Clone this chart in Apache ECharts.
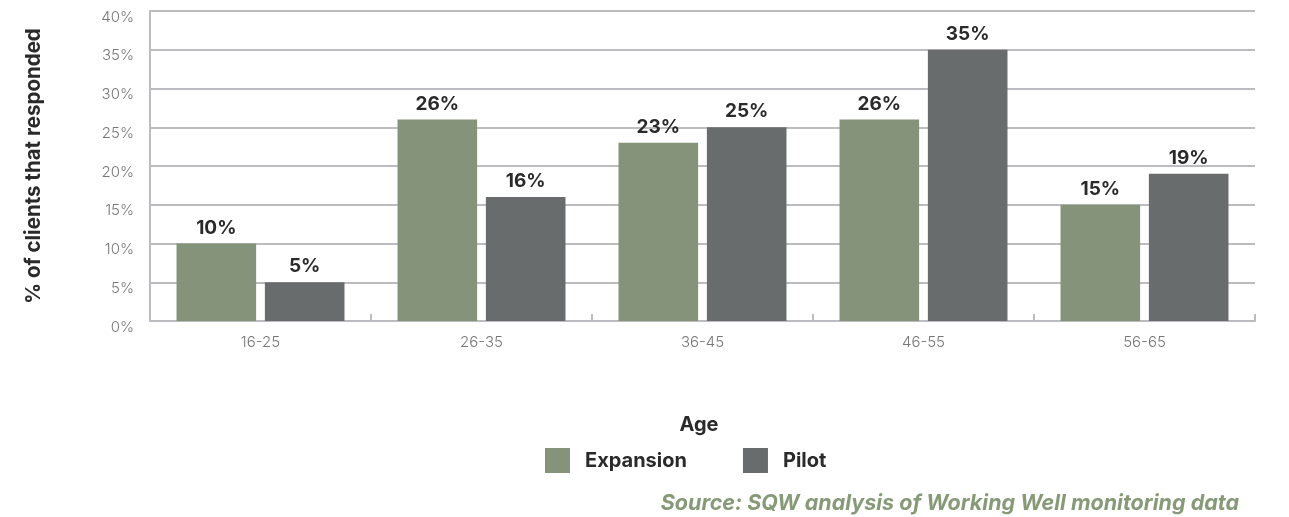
<!DOCTYPE html>
<html>
<head>
<meta charset="utf-8">
<script src="https://cdn.jsdelivr.net/npm/echarts@6/dist/echarts.min.js"></script>
<style>
  html, body { margin: 0; padding: 0; background: #ffffff; }
  #chart { width: 1289px; height: 517px; }
</style>
</head>
<body>
<div id="chart"></div>
<script>
// age groups on the x axis
const ageGroups = ['16-25', '26-35', '36-45', '46-55', '56-65']
// % of clients that responded
const expansion = [10, 26, 23, 26, 15]
const pilot = [5, 16, 25, 35, 19]

const FONT = 'Inter, "Noto Sans", sans-serif'
const expansionColor = '#84937a'
const pilotColor = '#686c6c'
const gridColor = '#bcbcc0'

const chart = echarts.init(document.getElementById('chart'))

const valueLabel = {
  show: true,
  position: 'top',
  distance: 6,
  formatter: (p) => p.value + '%',
  color: '#2a2a2a',
  fontFamily: FONT,
  fontWeight: 700,
  fontSize: 19
}

chart.setOption({
  animation: false,
  grid: { left: 150, right: 34, top: 11, bottom: 196 },
  title: [
    {
      text: 'Age',
      left: 694,
      top: 410,
      textAlign: 'center',
      textStyle: { fontFamily: FONT, fontWeight: 700, fontSize: 20, color: '#2a2a2a' }
    },
    {
      text: 'Source: SQW analysis of Working Well monitoring data',
      right: 45,
      top: 488,
      textStyle: { fontFamily: FONT, fontStyle: 'italic', fontWeight: 700, fontSize: 21.5, color: '#869a78' }
    }
  ],
  legend: {
    top: 443,
    left: 540,
    itemWidth: 25,
    itemHeight: 25,
    itemGap: 56,
    icon: 'rect',
    textStyle: { fontFamily: FONT, fontWeight: 700, fontSize: 20, color: '#2a2a2a', padding: [0, 0, 0, 10] },
    data: ['Expansion', 'Pilot']
  },
  xAxis: {
    type: 'category',
    data: ageGroups,
    axisLine: { lineStyle: { color: gridColor, width: 2 } },
    axisTick: { show: true, inside: true, length: 7, lineStyle: { color: gridColor, width: 2 } },
    axisLabel: { color: '#777777', fontFamily: FONT, fontWeight: 300, fontSize: 15, margin: 14 }
  },
  yAxis: {
    type: 'value',
    min: 0,
    max: 40,
    interval: 5,
    name: '% of clients that responded',
    nameLocation: 'middle',
    nameGap: 106,
    nameTextStyle: { fontFamily: FONT, fontWeight: 700, fontSize: 20.5, color: '#2a2a2a' },
    axisLine: { show: true, lineStyle: { color: gridColor, width: 2 } },
    axisTick: { show: false },
    splitLine: { lineStyle: { color: gridColor, width: 2 } },
    axisLabel: {
      formatter: '{value}%',
      color: '#777777',
      fontFamily: FONT,
      fontWeight: 300,
      fontSize: 15,
      margin: 16,
      verticalAlign: 'top',
      lineHeight: 12
    }
  },
  series: [
    {
      name: 'Expansion',
      type: 'bar',
      data: expansion,
      barGap: '11%',
      barCategoryGap: '24%',
      itemStyle: { color: expansionColor },
      label: valueLabel
    },
    {
      name: 'Pilot',
      type: 'bar',
      data: pilot,
      itemStyle: { color: pilotColor },
      label: valueLabel
    }
  ]
})
</script>
</body>
</html>
